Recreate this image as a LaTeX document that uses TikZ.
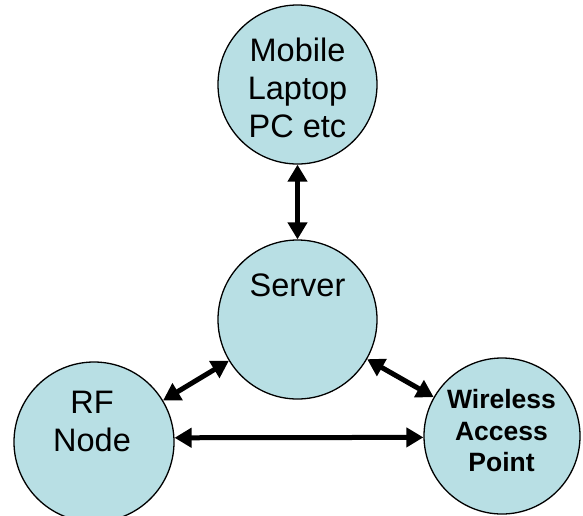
\documentclass[tikz,border=0pt]{standalone}
\usepackage{fontspec}
\setmainfont{Liberation Sans}
\usetikzlibrary{arrows.meta}
\definecolor{nodefill}{RGB}{184,223,228}
\tikzset{
  bubble/.style={circle, draw=black, line width=1.3pt, fill=nodefill, inner sep=0pt, minimum size=#1},
  bubble/.default=159pt,
  reglabel/.style={align=center, inner sep=0pt, font=\fontsize{32.5}{38}\selectfont},
  boldlabel/.style={align=center, inner sep=0pt, font=\fontsize{26.5}{31.5}\selectfont\bfseries},
  link/.style={line width=5pt, {Triangle[width=19pt,length=17pt]}-{Triangle[width=19pt,length=17pt]}}
}
\begin{document}
\begin{tikzpicture}[x=1pt,y=-1pt]
\useasboundingbox (0,0) rectangle (583,515);
\node[bubble] (mob) at (297.5,84.5) {};
\node[bubble] (srv) at (297.5,319.5) {};
\node[bubble=160pt] (rf) at (94,442) {};
\node[bubble=156pt] (wap) at (502,436) {};
\node[reglabel] (mobt) at (297.5,88) {Mobile\\Laptop\\PC etc};
\node[reglabel, anchor=base] (srvt) at (297.5,296) {Server};
\node[reglabel] (rft) at (92,421) {RF\\Node};
\node[boldlabel] (wapt) at (501.5,431) {Wireless\\Access\\Point};
\draw[link] (mob) -- (srv);
\draw[link] (rf) -- (srv);
\draw[link] (srv) -- (wap);
\draw[link] (rf.3) -- (wap.181.5);
\end{tikzpicture}
\end{document}
